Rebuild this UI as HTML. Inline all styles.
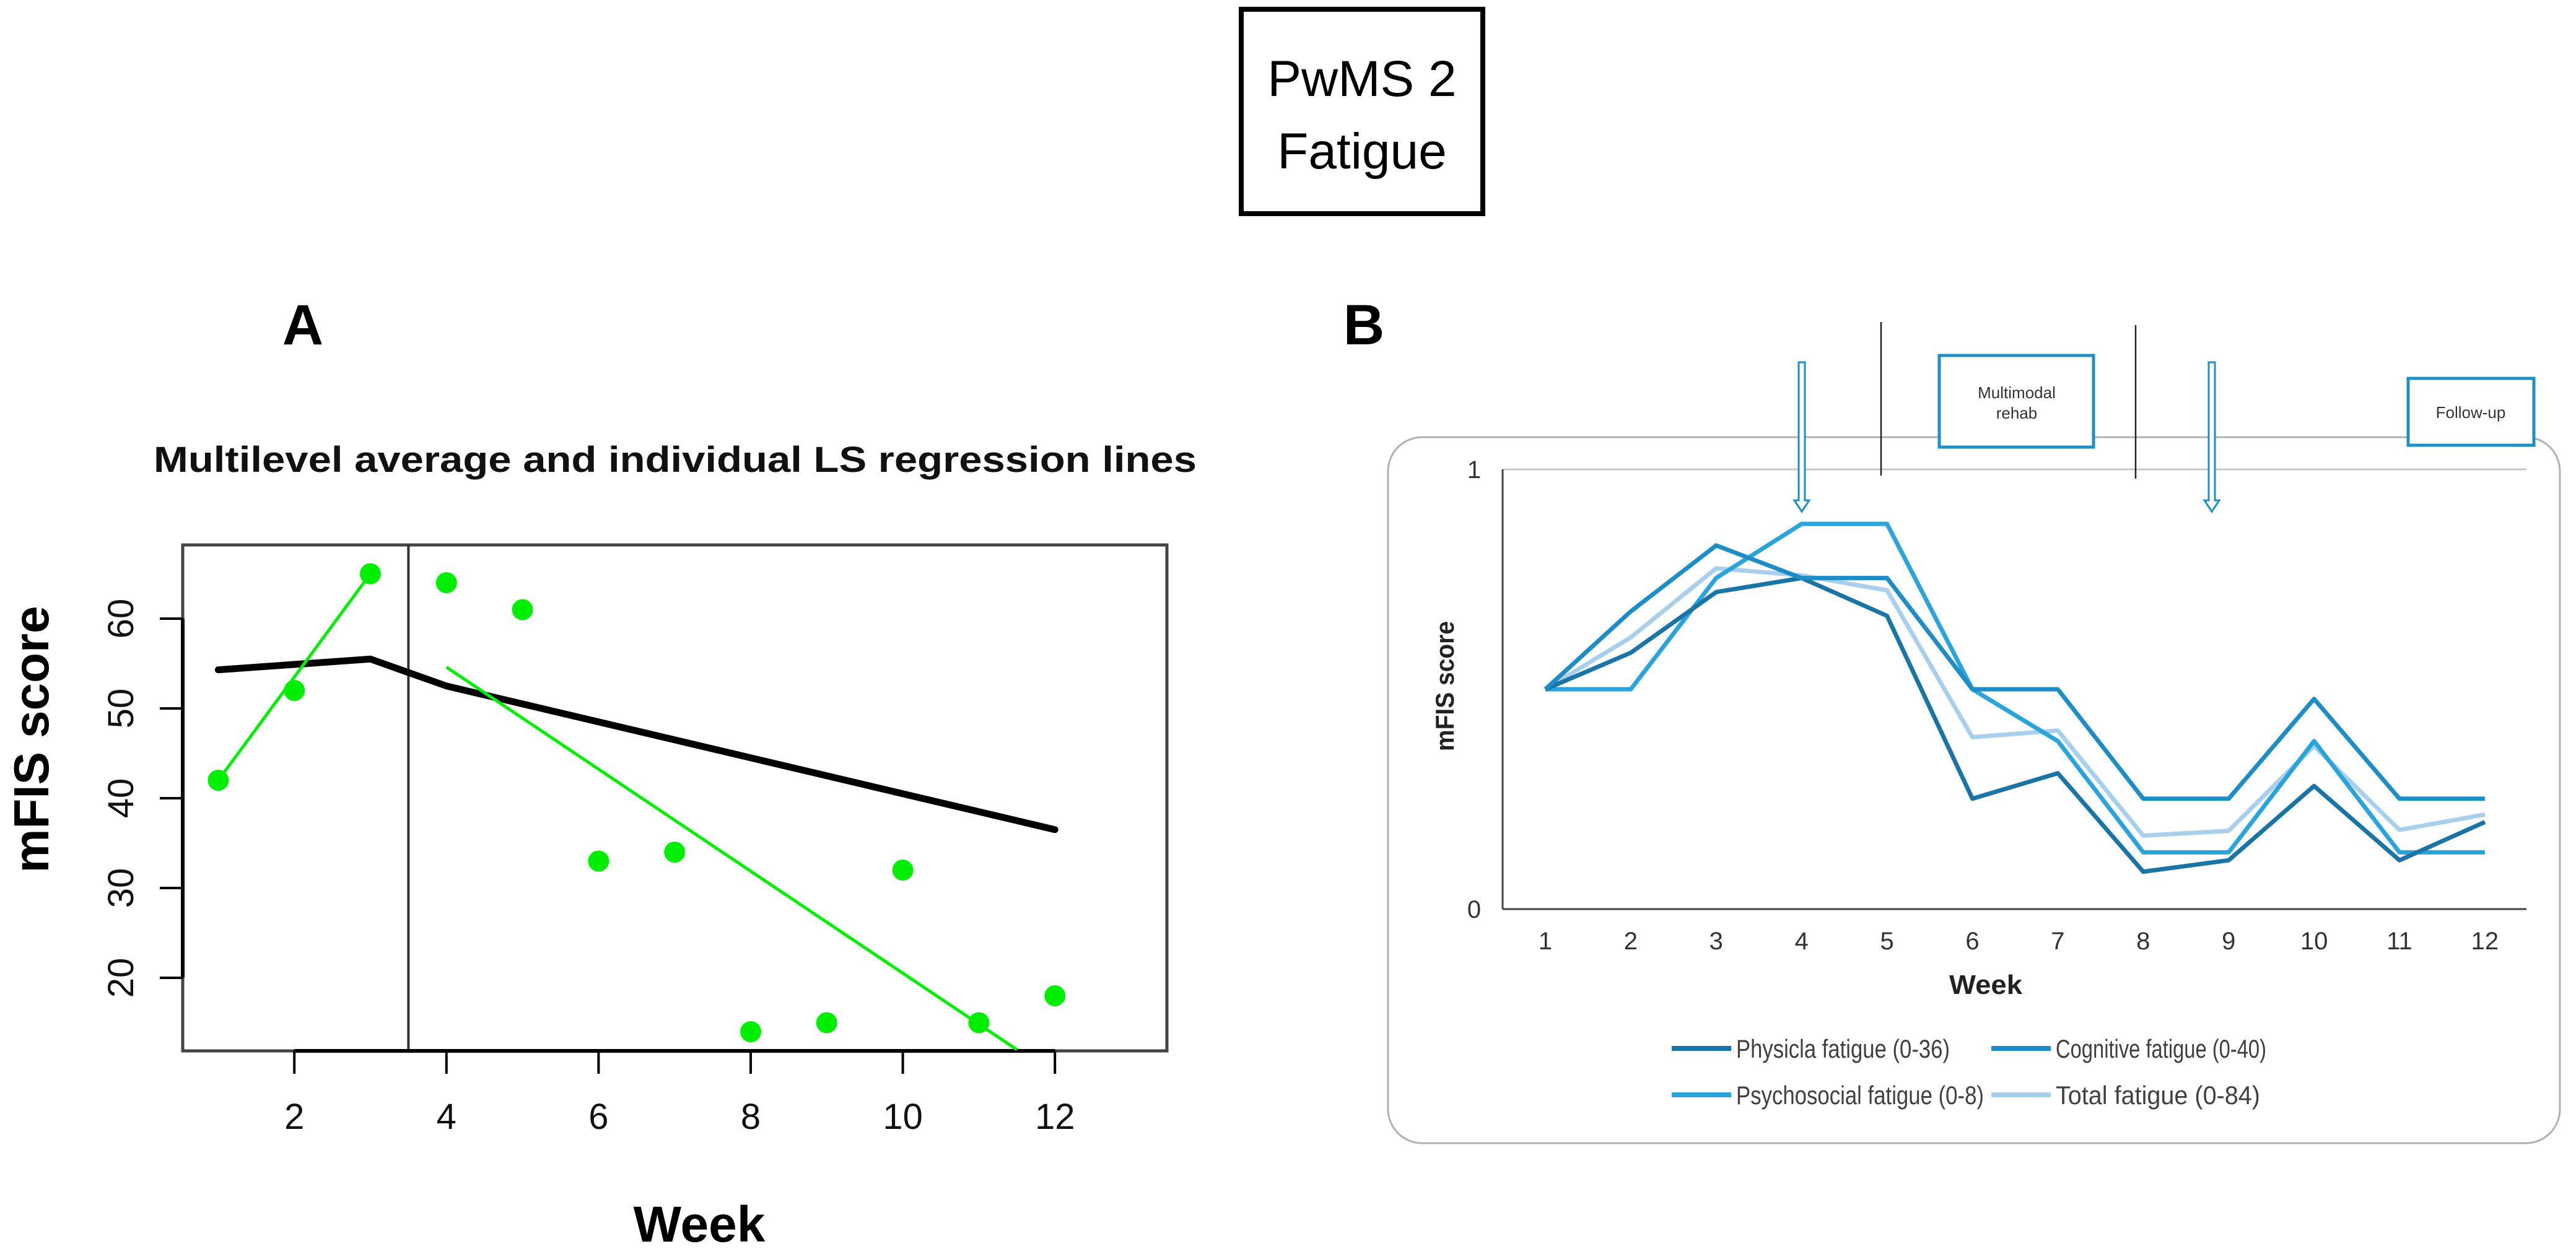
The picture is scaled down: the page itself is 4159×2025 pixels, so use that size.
<!DOCTYPE html>
<html><head><meta charset="utf-8">
<style>
html,body{margin:0;padding:0;background:#fff;}
svg{display:block;font-family:"Liberation Sans",sans-serif;}
</style></head>
<body>
<svg id="fig" width="4159" height="2025" viewBox="0 0 4159 2025" xmlns="http://www.w3.org/2000/svg">
  <g>
    <rect x="2004" y="15" width="390" height="330" fill="#fff" stroke="#000" stroke-width="8"/>
    <text x="2199" y="155" font-size="82" text-anchor="middle" fill="#000">PwMS 2</text>
    <text x="2199" y="272" font-size="82" text-anchor="middle" fill="#000">Fatigue</text>
  </g>
  <text x="489" y="556" font-size="92" font-weight="bold" text-anchor="middle">A</text>
  <text x="1090" y="762" font-size="58" font-weight="bold" text-anchor="middle" textLength="1684" lengthAdjust="spacingAndGlyphs" fill="#111">Multilevel average and individual LS regression lines</text>
  <text transform="translate(78,1194) rotate(-90)" font-size="80" font-weight="bold" text-anchor="middle">mFIS  score</text>
  <text x="1129" y="2005" font-size="82" font-weight="bold" text-anchor="middle">Week</text>
  <g id="chartA"></g>

  <text x="2202" y="556" font-size="92" font-weight="bold" text-anchor="middle">B</text>
  <rect x="2241" y="706" width="1892" height="1140" rx="55" ry="55" fill="none" stroke="#b0b0b0" stroke-width="3"/>
  <g id="chartB"></g>
</svg>
<script>
const NS='http://www.w3.org/2000/svg';
function mk(parent,tag,attrs,text){const e=document.createElementNS(NS,tag);for(const k in attrs)e.setAttribute(k,attrs[k]);if(text!==undefined)e.textContent=text;parent.appendChild(e);return e;}

// ---------- Panel A data ----------
const weeksA=[1,2,3,4,5,6,7,8,9,10,11,12];
const scoresA=[42,52,65,64,61,33,34,14,15,32,15,18];
const avgWeeksA=[1,3,4,12];
const avgValuesA=[54.3,55.5,52.5,36.5];
const fit1WeeksA=[1,3];
const fit1ValuesA=[42,65];
const fit2WeeksA=[4,11.5];
const fit2ValuesA=[54.6,12];
const xTicksA=[2,4,6,8,10,12];
const yTicksA=[20,30,40,50,60];

// ---------- Panel B data ----------
const weeksB=[1,2,3,4,5,6,7,8,9,10,11,12];
const physicalB=[0.5,0.583,0.721,0.753,0.667,0.251,0.309,0.085,0.111,0.28,0.111,0.198];
const cognitiveB=[0.5,0.677,0.827,0.753,0.753,0.5,0.5,0.251,0.251,0.478,0.251,0.251];
const psychosocialB=[0.5,0.5,0.753,0.876,0.876,0.5,0.382,0.129,0.129,0.382,0.129,0.129];
const totalB=[0.5,0.618,0.775,0.759,0.725,0.391,0.406,0.167,0.178,0.371,0.18,0.215];
const yTicksB=[0,1];
const seriesNamesB=['Physicla fatigue (0-36)','Cognitive fatigue (0-40)','Psychosocial fatigue (0-8)','Total fatigue (0-84)'];

// ---------- Panel A draw ----------
(function(){
  const g=document.getElementById('chartA');
  const L=295,R=1884,T=880,B=1697;
  const xA=w=>598+(w-3)*122.8;
  const yA=v=>999+(60-v)*14.5;
  const box=mk(g,'rect',{x:L,y:T,width:R-L,height:B-T,fill:'none',stroke:'#444',"stroke-width":5});
  
  
  const vl=mk(g,'line',{x1:xA(3.5),x2:xA(3.5),y1:T,y2:B,stroke:'#333',"stroke-width":4});
  
  
  const xa=mk(g,'line',{x1:xA(xTicksA[0]),x2:xA(xTicksA[xTicksA.length-1]),y1:B,y2:B,stroke:'#000',"stroke-width":6});
  
  
  xTicksA.forEach(t=>{
    const tk=mk(g,'line',{x1:xA(t),x2:xA(t),y1:B,y2:B+37,stroke:'#000',"stroke-width":4});
    
    
    const lb=mk(g,'text',{x:xA(t),y:1823,"font-size":58,"text-anchor":"middle",fill:'#111'},String(t));
    
    
  });
  const ya=mk(g,'line',{x1:L,x2:L,y1:yA(yTicksA[0]),y2:yA(yTicksA[yTicksA.length-1]),stroke:'#000',"stroke-width":6});
  
  
  yTicksA.forEach(t=>{
    const tk=mk(g,'line',{x1:L-37,x2:L,y1:yA(t),y2:yA(t),stroke:'#000',"stroke-width":4});
    
    
    const lb=mk(g,'text',{transform:`translate(215,${yA(t)}) rotate(-90)`,"font-size":58,"text-anchor":"middle",fill:'#111'},String(t));
    
    
  });
  const pts=(ws,vs)=>ws.map((w,i)=>xA(w)+','+yA(vs[i])).join(' ');
  const avg=mk(g,'polyline',{points:pts(avgWeeksA,avgValuesA),fill:'none',stroke:'#000',"stroke-width":11,"stroke-linejoin":"round","stroke-linecap":"round"});
  
  
  const f1=mk(g,'polyline',{points:pts(fit1WeeksA,fit1ValuesA),fill:'none',stroke:'#00ee00',"stroke-width":5});
  
  
  const f2=mk(g,'polyline',{points:pts(fit2WeeksA,fit2ValuesA),fill:'none',stroke:'#00ee00',"stroke-width":5});
  
  
  weeksA.forEach((w,i)=>{
    const c=mk(g,'circle',{cx:xA(w),cy:yA(scoresA[i]),r:17,fill:'#00ee00'});
    
    
  });
})();

// ---------- Panel B draw ----------
(function(){
  const g=document.getElementById('chartB');
  const L=2426,R=4079,T=758,B=1468;
  const xB=w=>2495+(w-1)*137.9;
  const yB=v=>B-v*(B-T);
  const grid=mk(g,'line',{x1:L,x2:R,y1:yB(1),y2:yB(1),stroke:'#c8c8c8',"stroke-width":3});
  
  
  const ya=mk(g,'line',{x1:L,x2:L,y1:T,y2:B,stroke:'#444',"stroke-width":3});
  
  
  const xa=mk(g,'line',{x1:L,x2:R,y1:B,y2:B,stroke:'#444',"stroke-width":3});
  
  
  yTicksB.forEach(t=>{
    const lb=mk(g,'text',{x:2380,y:yB(t)+14,"font-size":40,"text-anchor":"middle",fill:'#333'},String(t));
    
    
  });
  weeksB.forEach(w=>{
    const lb=mk(g,'text',{x:xB(w),y:1533,"font-size":40,"text-anchor":"middle",fill:'#333'},String(w));
    
    
  });
  const xt=mk(g,'text',{x:3206,y:1605,"font-size":44,"font-weight":"bold","text-anchor":"middle",fill:'#222',textLength:118,lengthAdjust:'spacingAndGlyphs'},'Week');
  
  
  const yt=mk(g,'text',{transform:'translate(2347,1108) rotate(-90)',"font-size":42,"font-weight":"bold","text-anchor":"middle",fill:'#222',textLength:210,lengthAdjust:'spacingAndGlyphs'},'mFIS score');
  
  

  [[3037,520,768],[3448,525,773]].forEach(p=>{
    const l=mk(g,'line',{x1:p[0],x2:p[0],y1:p[1],y2:p[2],stroke:'#222',"stroke-width":2.5});
    
    
  });
  [2909,3571].forEach(x=>{
    const a=mk(g,'path',{d:`M${x-5},585 L${x+5},585 L${x+5},808 L${x+12},808 L${x},826 L${x-12},808 L${x-5},808 Z`,fill:'#fff',stroke:'#1f8fc4',"stroke-width":3});
    
    
  });
  const b1=mk(g,'rect',{x:3131,y:574,width:249,height:148,fill:'#fff',stroke:'#1f8fc4',"stroke-width":5});
  
  
  const t1=mk(g,'text',{x:3256,y:643,"font-size":26,"text-anchor":"middle",fill:'#333'},'Multimodal');
  
  
  const t1b=mk(g,'text',{x:3256,y:676,"font-size":26,"text-anchor":"middle",fill:'#333'},'rehab');
  
  
  const b2=mk(g,'rect',{x:3888,y:611,width:203,height:108,fill:'#fff',stroke:'#1f8fc4',"stroke-width":5});
  
  
  const t2=mk(g,'text',{x:3989,y:675,"font-size":26,"text-anchor":"middle",fill:'#333'},'Follow-up');
  
  

  const series=[physicalB,cognitiveB,psychosocialB,totalB];
  const colors=['#1a74a6','#1e8dc6','#2aa5dc','#a8d0ec'];
  const names=['physical-fatigue-line','cognitive-fatigue-line','psychosocial-fatigue-line','total-fatigue-line'];
  [3,2,0,1].forEach(si=>{
    const pl=mk(g,'polyline',{points:weeksB.map((w,i)=>xB(w)+','+yB(series[si][i])).join(' '),fill:'none',stroke:colors[si],"stroke-width":7,"stroke-linejoin":"round"});
    
    
  });
  const legPos=[[2699,1693],[3215,1693],[2699,1768],[3215,1768]];
  const legW=[345,340,400,330];
  seriesNamesB.forEach((nm,i)=>{
    const [x,y]=legPos[i];
    const ln=mk(g,'line',{x1:x,x2:x+96,y1:y,y2:y,stroke:colors[i],"stroke-width":8});
    
    
    const tx=mk(g,'text',{x:x+104,y:y+15,"font-size":42,fill:'#404040',textLength:legW[i],lengthAdjust:'spacingAndGlyphs'},nm);
    
    
  });
})();
</script>
</body></html>
